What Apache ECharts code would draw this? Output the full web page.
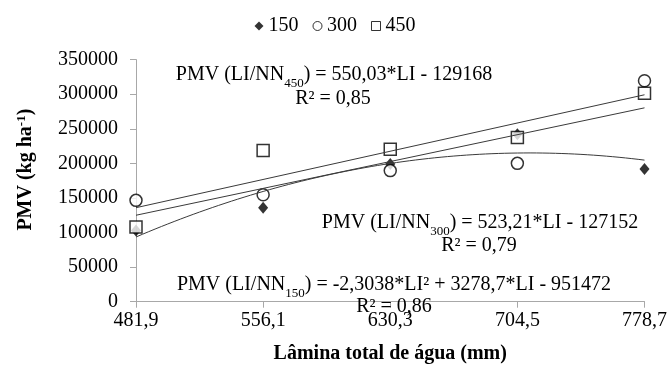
<!DOCTYPE html>
<html><head><meta charset="utf-8">
<script src="https://cdn.jsdelivr.net/npm/echarts@6/dist/echarts.min.js"></script>
<style>html,body{margin:0;padding:0;background:#fff}#c{width:670px;height:378px}</style>
</head><body><div id="c"></div>
<script>
// Lâmina total de água (mm)
const categories = [481.9, 556.1, 630.3, 704.5, 778.7];
const tickLabels = ['481,9', '556,1', '630,3', '704,5', '778,7'];
const seriesNames = ['150', '300', '450'];
// PMV (kg ha-1)
const values150 = [103000, 136000, 199000, 242000, 192000];
const values300 = [146500, 154500, 189500, 200000, 319500];
const values450 = [108000, 218500, 220500, 237500, 301500];
// trend equations printed on the chart: a*LI^2 + b*LI + c
const fit150 = [-2.3038, 3278.7, -951472];
const fit300 = [0, 523.21, -127152];
const fit450 = [0, 550.03, -129168];
const yMin = 0, yMax = 350000, yStep = 50000;

const FONT = 'Liberation Serif';
const lineColor = '#3a3a3a';
const axisColor = '#a8a8a8';

function trend(coef, n) {
  const lo = categories[0], hi = categories[categories.length - 1];
  const pts = [];
  for (let i = 0; i <= n; i++) {
    const x = lo + (hi - lo) * i / n;
    pts.push([x, coef[0] * x * x + coef[1] * x + coef[2]]);
  }
  return pts;
}

const chart = echarts.init(document.getElementById('c'), null, {renderer: 'canvas'});
const serif = {fontFamily: FONT, fontSize: 20, color: '#000'};
const eqRich = {
  n: {fontFamily: FONT, fontSize: 20, color: '#000', lineHeight: 24, verticalAlign: 'middle'},
  sub: {fontFamily: FONT, fontSize: 13, color: '#000', lineHeight: 24, verticalAlign: 'bottom', padding: [0, 0, -3, 0]}
};
function eq(text, x, y) {
  return {type: 'text', x: x, y: y, z: 100,
    style: {text: text, align: 'center', verticalAlign: 'middle', fontFamily: FONT, fontSize: 20, fill: '#000', rich: eqRich}};
}
chart.setOption({
  animation: false,
  backgroundColor: '#fff',
  textStyle: {fontFamily: FONT},
  legend: {
    top: 11, left: 'center', itemWidth: 9, itemHeight: 9, itemGap: 14,
    formatter: function (n) { return '{t|' + n + '}'; },
    textStyle: {fontFamily: FONT, fontSize: 20, color: '#000', rich: {t: serif}},
    data: [
      {name: '150', icon: 'diamond', itemStyle: {color: '#000', borderWidth: 0}},
      {name: '300', icon: 'circle', itemStyle: {color: '#fff', borderColor: '#000', borderWidth: 1}},
      {name: '450', icon: 'rect', itemStyle: {color: '#fff', borderColor: '#000', borderWidth: 1}}
    ]
  },
  grid: {left: 136, right: 24.5, top: 59.6, bottom: 76.3, containLabel: false},
  xAxis: [{
    type: 'category', data: tickLabels, boundaryGap: false,
    name: 'Lâmina total de água (mm)', nameLocation: 'middle', nameGap: 42,
    nameTextStyle: {fontFamily: FONT, fontSize: 20, fontWeight: 'bold', color: '#000'},
    axisLine: {lineStyle: {color: axisColor, width: 1}},
    axisTick: {show: true, inside: false, length: 6, alignWithLabel: true, lineStyle: {color: axisColor}},
    axisLabel: {fontFamily: FONT, fontSize: 20, color: '#000', margin: 9,
      formatter: function (v) { return '{t|' + v + '}'; }, rich: {t: serif}},
    splitLine: {show: false}
  }, {
    type: 'value', min: categories[0], max: categories[categories.length - 1], show: false
  }],
  yAxis: {
    type: 'value', min: yMin, max: yMax, interval: yStep,
    name: 'PMV (kg ha{sup|-1})', nameLocation: 'middle', nameRotate: 90, nameGap: 100,
    nameTextStyle: {fontFamily: FONT, fontSize: 20, fontWeight: 'bold', color: '#000', padding: [0, 0, 0, 22],
      rich: {sup: {fontFamily: FONT, fontSize: 13, fontWeight: 'bold', color: '#000', verticalAlign: 'top', padding: [0, 0, 8, 0]}}},
    axisLine: {show: true, lineStyle: {color: axisColor, width: 1}},
    axisTick: {show: true, length: 6, lineStyle: {color: axisColor}},
    axisLabel: {fontFamily: FONT, fontSize: 20, color: '#000', margin: 18,
      formatter: function (v) { return '{t|' + String(v) + '}'; }, rich: {t: serif}},
    splitLine: {show: false}
  },
  series: [
    {name: '150', type: 'scatter', data: values150, symbol: 'diamond', symbolSize: [10, 12],
      itemStyle: {color: '#000'}, z: 2},
    {name: '300', type: 'scatter', data: values300, symbol: 'circle', symbolSize: 12,
      itemStyle: {color: '#fff', borderColor: '#000', borderWidth: 1.5}, z: 3},
    {name: '450', type: 'scatter', data: values450, symbol: 'rect', symbolSize: 12,
      itemStyle: {color: '#fff', borderColor: '#000', borderWidth: 1.5}, z: 4},
    {name: 'trend450', type: 'line', xAxisIndex: 1, data: trend(fit450, 1), showSymbol: false, symbol: 'none',
      lineStyle: {color: lineColor, width: 1}, z: 5, silent: true},
    {name: 'trend300', type: 'line', xAxisIndex: 1, data: trend(fit300, 1), showSymbol: false, symbol: 'none',
      lineStyle: {color: lineColor, width: 1}, z: 5, silent: true},
    {name: 'trend150', type: 'line', xAxisIndex: 1, data: trend(fit150, 80), showSymbol: false, symbol: 'none', smooth: false,
      lineStyle: {color: lineColor, width: 1}, z: 5, silent: true}
  ],
  graphic: [
    eq('{n|PMV (LI/NN}{sub|450}{n|) = 550,03*LI - 129168}', 334, 75),
    eq('{n|R² = 0,85}', 333, 99),
    eq('{n|PMV (LI/NN}{sub|300}{n|) = 523,21*LI - 127152}', 480, 223),
    eq('{n|R² = 0,79}', 479, 246),
    eq('{n|PMV (LI/NN}{sub|150}{n|) = -2,3038*LI² + 3278,7*LI - 951472}', 394, 285),
    eq('{n|R² = 0,86}', 394, 307)
  ]
});
</script></body></html>
